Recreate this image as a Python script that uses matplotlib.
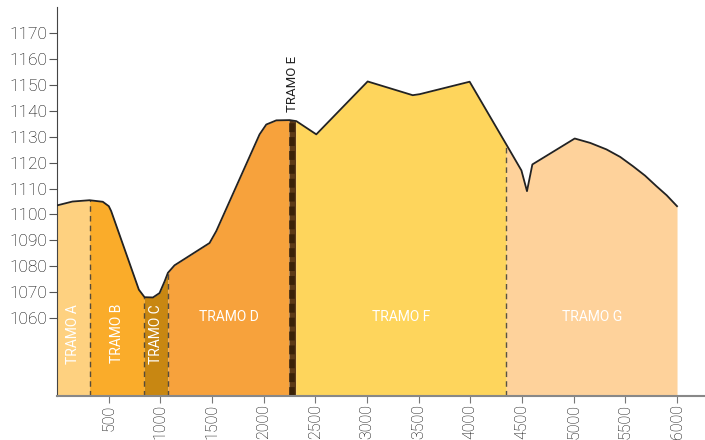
import numpy as np
import matplotlib.pyplot as plt

# elevation profile (distance in m, altitude in m)
dist = [0, 150, 315, 443, 501, 524, 792, 847, 928, 992, 1041, 1073, 1137,
        1476, 1541, 1960, 2025, 2122, 2251, 2316, 2509, 3006, 3442, 3510,
        3993, 4348, 4494, 4548, 4600, 5010, 5160, 5317, 5450, 5574, 5690,
        5801, 5900, 6000]
alt = [1103.5, 1105.0, 1105.5, 1104.9, 1103.2, 1101.3, 1071.0, 1068.1, 1068.0,
       1069.7, 1074.2, 1077.5, 1080.4, 1089.0, 1093.6, 1130.9, 1134.7, 1136.3,
       1136.4, 1136.0, 1130.9, 1151.3, 1146.0, 1146.4, 1151.2, 1127.0, 1117.0,
       1109.0, 1119.3, 1129.3, 1127.6, 1125.1, 1122.2, 1118.6, 1115.0,
       1110.9, 1107.4, 1103.2]

tramos = ['TRAMO A', 'TRAMO B', 'TRAMO C', 'TRAMO D', 'TRAMO E', 'TRAMO F', 'TRAMO G']
bounds = [0, 315, 845, 1073, 2245, 2310, 4348, 6000]
colors = ['#fed180', '#faac2a', '#c88712', '#f7a23c', '#5c3a16', '#fed55c', '#fed29b']
label_rot = [90, 90, 90, 0, 90, 0, 0]

yticks = [1060, 1070, 1080, 1090, 1100, 1110, 1120, 1130, 1140, 1150, 1160, 1170]
xticks = [500, 1000, 1500, 2000, 2500, 3000, 3500, 4000, 4500, 5000, 5500, 6000]

plt.rcParams['font.family'] = ['Roboto', 'DejaVu Sans']

dist = np.array(dist, dtype=float)
alt = np.array(alt, dtype=float)
ybot = 1030

fig = plt.figure(figsize=(7.05, 4.4), dpi=100)
ax = fig.add_axes([0.0809, 0.1, 0.919, 0.884])

for i, name in enumerate(tramos):
    x0, x1 = bounds[i], bounds[i + 1]
    inside = (dist > x0) & (dist < x1)
    xs = np.concatenate([[x0], dist[inside], [x1]])
    ys = np.interp(xs, dist, alt)
    ax.fill_between(xs, ybot, ys, color=colors[i], lw=0, zorder=1)

    if name == 'TRAMO E':
        xm = (x0 + x1) / 2
        ax.plot([xm, xm], [ybot, np.interp(xm, dist, alt)], color='#3a2208',
                lw=4, dashes=(1.6, 0.9), zorder=2)
        ax.text(xm, 1139.5, name, rotation=90, ha='center', va='bottom',
                fontsize=9.5, color='#222222')
    elif label_rot[i] == 90:
        ax.text((x0 + x1) / 2, 1054, name, rotation=90, ha='center', va='center',
                fontsize=10, color='white')
    else:
        ax.text((x0 + x1) / 2, 1060.5, name, ha='center', va='center',
                fontsize=10, color='white')

# dashed separators
for b in [315, 845, 1073, 4348]:
    ax.plot([b, b], [ybot, np.interp(b, dist, alt)], color='#3a3a3a', lw=1,
            dashes=(4, 3), zorder=2, alpha=0.85)

ax.plot(dist, alt, color='#222222', lw=1.3, zorder=3)

ax.set_xlim(0, 6270)
ax.set_ylim(ybot, 1180)
ax.set_xticks(xticks)
ax.set_yticks(yticks)
ax.tick_params(axis='x', rotation=90, labelsize=11.5, length=5, pad=1, color='#777777', labelcolor='#000000')
ax.tick_params(axis='y', labelsize=12.5, length=6, pad=1, color='#555555', labelcolor='#000000')
for lab in ax.get_xticklabels() + ax.get_yticklabels():
    lab.set_fontweight('light')

for s in ['top', 'right']:
    ax.spines[s].set_visible(False)
ax.spines['left'].set_color('#444444')
ax.spines['bottom'].set_color('#888888')
ax.spines['bottom'].set_linewidth(1.5)

plt.savefig('out.png', dpi=100)
